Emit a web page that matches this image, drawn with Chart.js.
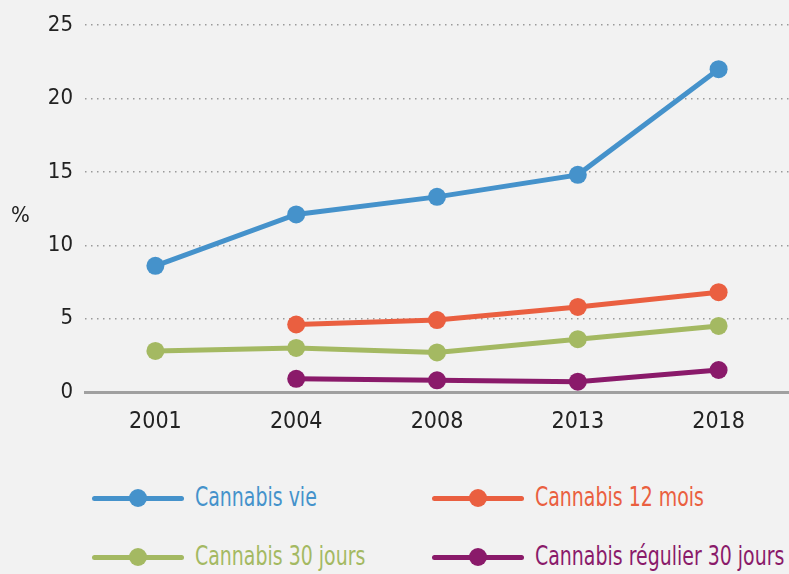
<!DOCTYPE html>
<html>
<head>
<meta charset="utf-8">
<script src="https://cdn.jsdelivr.net/npm/chart.js@4"></script>
<style>
  body { margin: 0; background: #f2f2f2; font-family: "DejaVu Sans Condensed", "DejaVu Sans", sans-serif; }
  #wrap { position: relative; width: 789px; height: 574px; overflow: hidden; }
  #chart { position: absolute; left: 0; top: 0; }
  #unit { position: absolute; left: 11px; top: 202px; font-size: 22px; color: #222; }
  .item { position: absolute; height: 30px; }
  .item .line { position: absolute; left: 0; top: 13px; width: 92px; height: 5px; border-radius: 3px; }
  .item .dot { position: absolute; left: 37px; top: 6px; width: 18px; height: 18px; border-radius: 50%; }
  .item .txt { position: absolute; left: 103px; top: -1px; font-size: 26px; line-height: 30px; white-space: nowrap;
               transform: scaleX(0.81); transform-origin: left center; }
</style>
</head>
<body>
<div id="wrap">
  <canvas id="chart" width="789" height="440"></canvas>
  <div id="unit">%</div>
  <div id="legend"></div>
</div>
<script>
// ----------------- DATA -----------------
const years = ["2001", "2004", "2008", "2013", "2018"];
const seriesNames = ["Cannabis vie", "Cannabis 12 mois", "Cannabis 30 jours", "Cannabis régulier 30 jours"];
const cannabisVie = [8.6, 12.1, 13.3, 14.8, 22.0];
const cannabis12Mois = [null, 4.6, 4.9, 5.8, 6.8];
const cannabis30Jours = [2.8, 3.0, 2.7, 3.6, 4.5];
const cannabisRegulier = [null, 0.9, 0.8, 0.7, 1.5];
const yTicks = [0, 5, 10, 15, 20, 25];

const colors = ["#4592cb", "#ea5f40", "#a4b962", "#8a1a6a"];
const fontFamily = '"DejaVu Sans Condensed", "DejaVu Sans", sans-serif';

function makeSet(i, data) {
    return {
        label: seriesNames[i],
        data: data,
        borderColor: colors[i],
        backgroundColor: colors[i],
        borderWidth: 5,
        pointRadius: 9,
        pointHoverRadius: 9,
        pointBorderWidth: 0,
        tension: 0
    };
}

// ----------------- CHART SETUP -----------------
const ctx = document.getElementById("chart").getContext("2d");
const chart = new Chart(ctx, {
    type: "line",
    data: {
        labels: years,
        datasets: [
            makeSet(3, cannabisRegulier),
            makeSet(2, cannabis30Jours),
            makeSet(1, cannabis12Mois),
            makeSet(0, cannabisVie)
        ]
    },
    options: {
        responsive: false,
        animation: false,
        layout: { autoPadding: false, padding: { top: 22, right: 0, left: 0, bottom: 0 } },
        plugins: { legend: { display: false }, tooltip: { enabled: false } },
        scales: {
            x: {
                offset: true,
                grid: { display: false },
                border: { display: true, color: "#a0a0a0", width: 3 },
                ticks: { color: "#222", font: { family: fontFamily, size: 23 }, padding: 8 },
                afterFit: scale => { scale.height = 48; }
            },
            y: {
                min: 0,
                max: 25,
                afterBuildTicks: scale => { scale.ticks = yTicks.map(v => ({ value: v })); },
                grid: { color: "#9a9a9a", lineWidth: 1.5, drawTicks: false },
                border: { display: false, dash: [1.5, 4.5] },
                ticks: { color: "#222", font: { family: fontFamily, size: 22 }, padding: 12 },
                afterFit: scale => { scale.width = 85; }
            }
        }
    }
});

// ----------------- LEGEND -----------------
const legendPos = [[92, 483], [432, 483], [92, 542], [432, 542]];
const legend = document.getElementById("legend");
seriesNames.forEach((name, i) => {
    const el = document.createElement("div");
    el.className = "item";
    el.style.left = legendPos[i][0] + "px";
    el.style.top = legendPos[i][1] + "px";
    el.innerHTML = `<div class="line" style="background:${colors[i]}"></div>` +
        `<div class="dot" style="background:${colors[i]}"></div>` +
        `<div class="txt" style="color:${colors[i]}">${name}</div>`;
    legend.appendChild(el);
});
</script>
</body>
</html>
